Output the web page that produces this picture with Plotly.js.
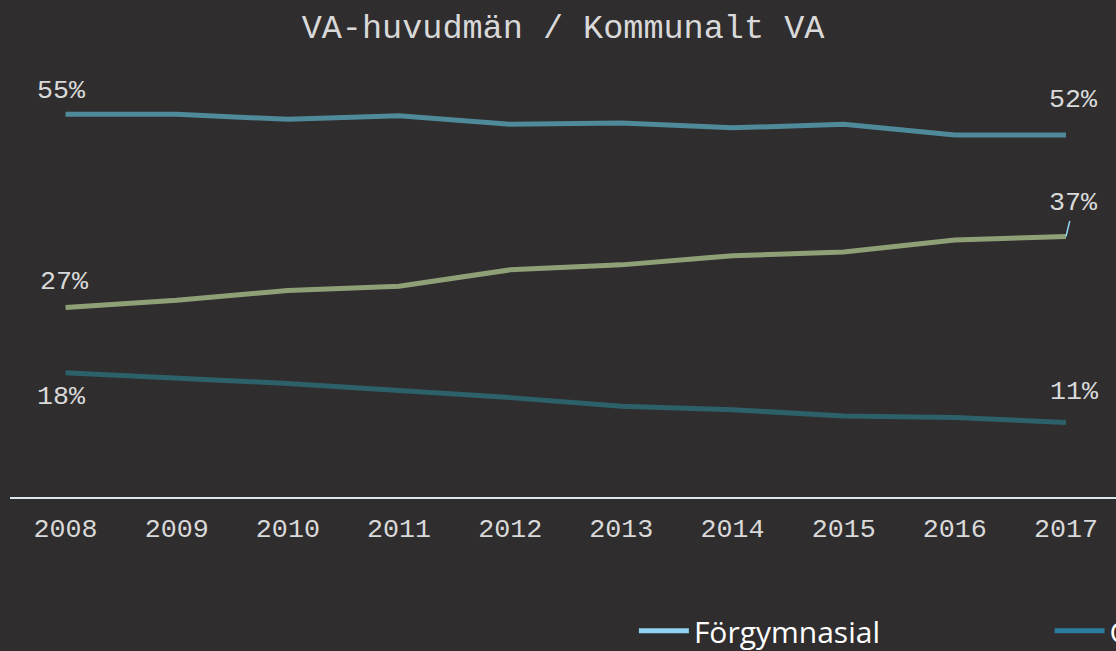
<!DOCTYPE html>
<html>
<head>
<meta charset="utf-8">
<script src="https://cdn.plot.ly/plotly-3.0.1.min.js"></script>
<style>
html,body{margin:0;padding:0;background:#2f2d2e;}
#chart{width:1116px;height:651px;}
</style>
</head>
<body>
<div id="chart"></div>
<script>
// ---- data ----
const years = ["2008","2009","2010","2011","2012","2013","2014","2015","2016","2017"];
const seriesTop = [54.6, 54.6, 53.9, 54.4, 53.2, 53.4, 52.7, 53.2, 51.7, 51.7];
const seriesMid = [27.4, 28.4, 29.8, 30.4, 32.7, 33.4, 34.7, 35.2, 36.9, 37.4];
const seriesLow = [18.2, 17.4, 16.7, 15.7, 14.7, 13.5, 13.0, 12.1, 11.9, 11.2];
const legendNames = ["Förgymnasial", "Gymnasial"];
const chartTitle = "VA-huvudmän / Kommunalt VA";

const mono = "'Courier New', 'Nimbus Mono PS', FreeMono, 'Liberation Mono', monospace";
const sans = "'Segoe UI', 'Open Sans', 'Noto Sans', sans-serif";
const txt = "#d9d9d9";
const noData = years.map(() => null);

const traces = [
  {x: years, y: seriesTop, type: "scatter", mode: "lines", name: "Serie 1",
   line: {color: "#4f8a9a", width: 5}, showlegend: false, hoverinfo: "skip"},
  {x: years, y: seriesMid, type: "scatter", mode: "lines", name: "Serie 2",
   line: {color: "#8fa077", width: 5}, showlegend: false, hoverinfo: "skip"},
  {x: years, y: seriesLow, type: "scatter", mode: "lines", name: "Serie 3",
   line: {color: "#2c6169", width: 5}, showlegend: false, hoverinfo: "skip"},
  {x: years, y: noData, type: "scatter", mode: "lines", name: legendNames[0],
   line: {color: "#8ed3ef", width: 5}, showlegend: true, legend: "legend"},
  {x: years, y: noData, type: "scatter", mode: "lines", name: legendNames[1],
   line: {color: "#2a7d9e", width: 5}, showlegend: true, legend: "legend2"}
];

const last = years.length - 1;
function pct(v){ return Math.round(v) + "%"; }
const labelFont = {family: mono, size: 26.7, color: txt};
const annotations = [
  {x: 0, y: seriesTop[0], text: pct(seriesTop[0]), showarrow: false, xshift: -4, yshift: 23},
  {x: 0, y: seriesMid[0], text: pct(seriesMid[0]), showarrow: false, xshift: -1, yshift: 25},
  {x: 0, y: seriesLow[0], text: pct(seriesLow[0]), showarrow: false, xshift: -4, yshift: -24},
  {x: last, y: seriesTop[last], text: pct(seriesTop[last]), showarrow: false, xshift: 8, yshift: 35},
  {x: last, y: seriesMid[last], text: pct(seriesMid[last]), showarrow: true, arrowhead: 0,
   arrowwidth: 1.5, arrowcolor: "#8ed3ef", ax: 8, ay: -33, standoff: 0, borderpad: 2},
  {x: last, y: seriesLow[last], text: pct(seriesLow[last]), showarrow: false, xshift: 9, yshift: 30}
].map(a => Object.assign({xref: "x", yref: "y", font: labelFont}, a));

const legendFont = {family: sans, size: 30, color: "#ffffff"};
const layout = {
  width: 1116, height: 651,
  paper_bgcolor: "#2f2d2e", plot_bgcolor: "#2f2d2e",
  margin: {l: 10, r: 0, t: 70, b: 154, autoexpand: false},
  title: {text: chartTitle, font: {family: mono, size: 33.5, color: txt},
          x: 0.5, xref: "paper", y: 1 - 26/651, yref: "container", yanchor: "middle"},
  xaxis: {type: "category", range: [-0.5, 9.45], showgrid: false, zeroline: false,
          showline: true, linecolor: "#d8e8ec", linewidth: 1.5, ticks: "",
          ticklabelstandoff: 6,
          tickfont: {family: mono, size: 26.7, color: txt}, fixedrange: true},
  yaxis: {range: [0.70, 60.85], showgrid: false, zeroline: false, showline: false,
          showticklabels: false, fixedrange: true},
  showlegend: true,
  legend: {orientation: "h", x: 0.568, y: 0.031, xref: "container", yref: "container",
           xanchor: "left", yanchor: "middle", bgcolor: "rgba(0,0,0,0)",
           itemwidth: 50, font: legendFont},
  legend2: {orientation: "h", x: 0.9405, y: 0.031, xref: "container", yref: "container",
           xanchor: "left", yanchor: "middle", bgcolor: "rgba(0,0,0,0)",
           itemwidth: 50, font: legendFont},
  annotations: annotations
};

Plotly.newPlot("chart", traces, layout, {displayModeBar: false, staticPlot: true});
</script>
</body>
</html>
